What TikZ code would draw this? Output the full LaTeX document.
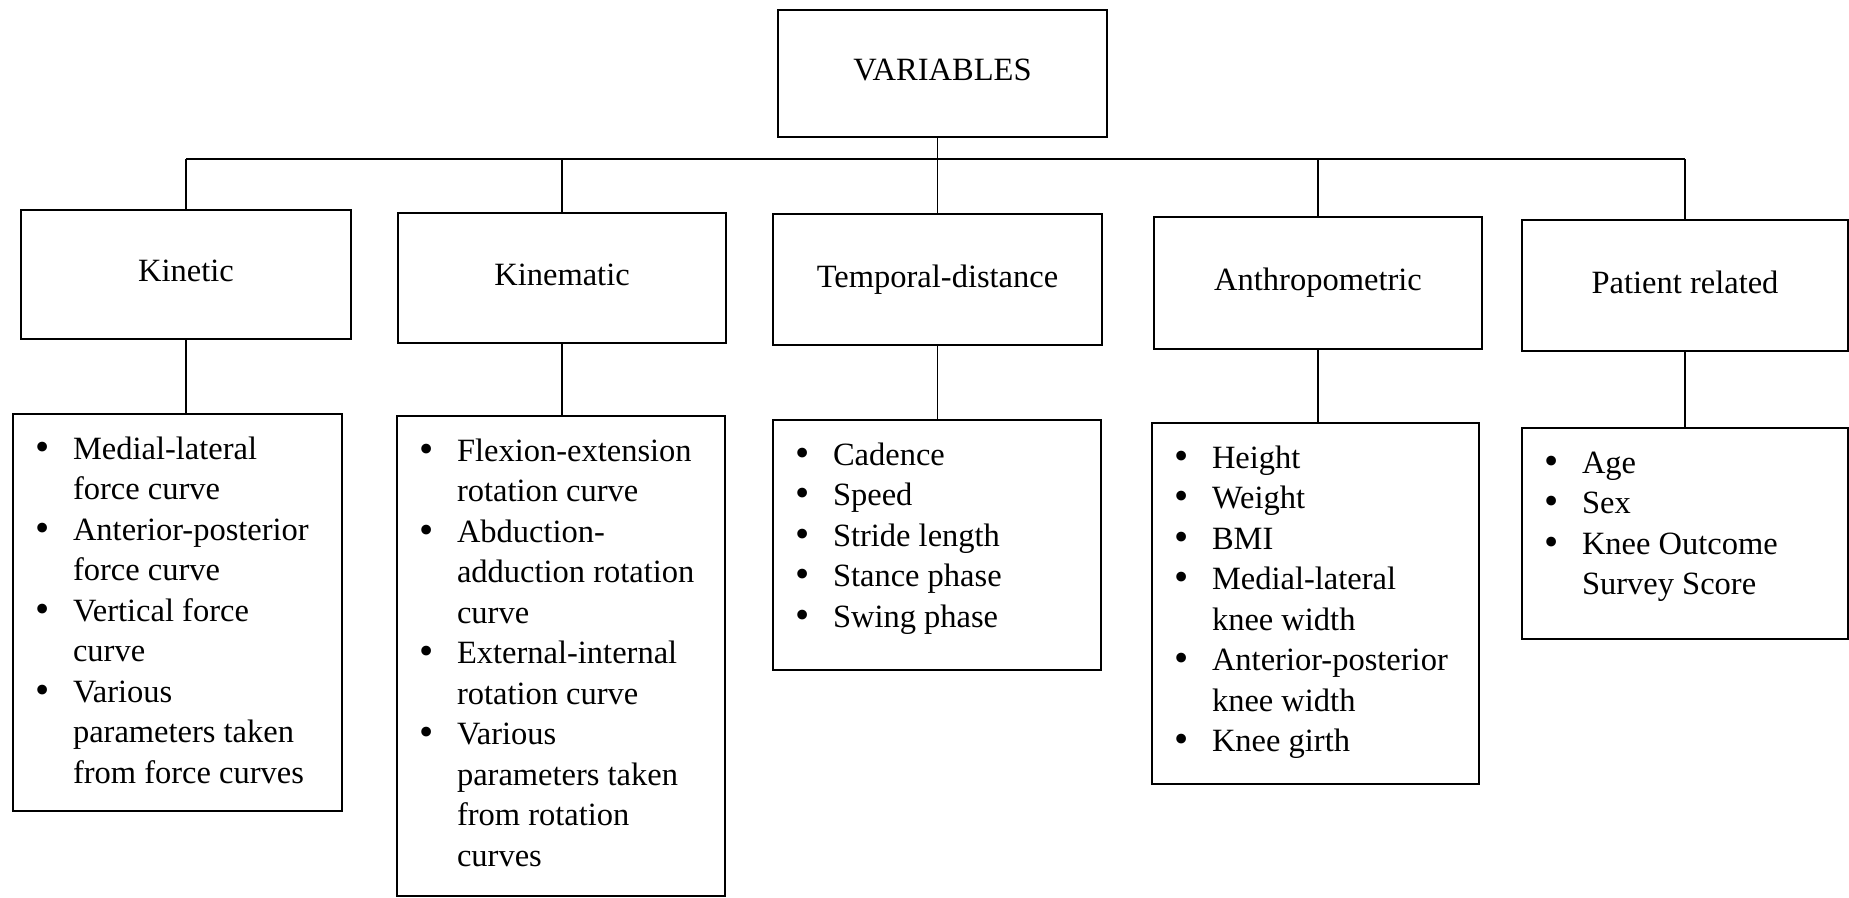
\documentclass[tikz,border=0pt]{standalone}
\usepackage{fontspec}
\setmainfont{Liberation Serif}
\newcommand{\bitem}[1]{\par\noindent\hangindent=60pt\hangafter=1\makebox[60pt][l]{\hspace{22pt}\raisebox{-1pt}{\scalebox{1.25}{\textbullet}}}\strut#1\strut\par}
\newcommand{\blist}[3]{\parbox[t][#2][t]{#1}{\raggedright\fontsize{32.5}{40.5}\selectfont\vspace*{17pt}#3}}
\newcommand{\up}[1]{\raisebox{7pt}{#1}}
\begin{document}
\begin{tikzpicture}[x=1pt,y=-1pt,
  box/.style={draw, line width=2pt, inner sep=0pt, anchor=north west, align=center, font=\fontsize{32.5}{40.5}\selectfont},
  listbox/.style={draw, line width=2pt, inner sep=0pt, anchor=north west, font=\fontsize{32.5}{40.5}\selectfont},
  conn/.style={line width=1.5pt}]
\useasboundingbox (0,0) rectangle (1849,897);
% top
\node[box, minimum width=329pt, minimum height=127pt] (top) at (777,9) {\up{VARIABLES}};
% level 2
\node[box, minimum width=330pt, minimum height=129pt] (k1) at (20,209) {\up{Kinetic}};
\node[box, minimum width=328pt, minimum height=130pt] (k2) at (397,212) {\up{Kinematic}};
\node[box, minimum width=329pt, minimum height=131pt] (k3) at (772,213) {\up{Temporal-distance}};
\node[box, minimum width=328pt, minimum height=132pt] (k4) at (1153,216) {\up{Anthropometric}};
\node[box, minimum width=326pt, minimum height=131pt] (k5) at (1521,219) {\up{Patient related}};
% level 3
\node[listbox] (l1) at (12,413) {\blist{329pt}{397pt}{%
\bitem{Medial-lateral\newline force curve}
\bitem{Anterior-posterior\newline force curve}
\bitem{Vertical force\newline curve}
\bitem{Various\newline parameters taken\newline from force curves}}};
\node[listbox] (l2) at (396,415) {\blist{328pt}{480pt}{%
\bitem{Flexion-extension\newline rotation curve}
\bitem{Abduction-\newline adduction rotation\newline curve}
\bitem{External-internal\newline rotation curve}
\bitem{Various\newline parameters taken\newline from rotation\newline curves}}};
\node[listbox] (l3) at (772,419) {\blist{328pt}{250pt}{%
\bitem{Cadence}
\bitem{Speed}
\bitem{Stride length}
\bitem{Stance phase}
\bitem{Swing phase}}};
\node[listbox] (l4) at (1151,422) {\blist{327pt}{361pt}{%
\bitem{Height}
\bitem{Weight}
\bitem{BMI}
\bitem{Medial-lateral\newline knee width}
\bitem{Anterior-posterior\newline knee width}
\bitem{Knee girth}}};
\node[listbox] (l5) at (1521,427) {\blist{326pt}{211pt}{%
\bitem{Age}
\bitem{Sex}
\bitem{Knee Outcome\newline Survey Score}}};
% connectors
\coordinate (bus) at (0,159);
\draw[conn] (top.south -| k3.north) -- (k3.north |- bus);
\draw[conn] (k1.north |- bus) -- (k5.north |- bus);
\foreach \i in {1,...,5}{
  \draw[conn] (k\i.north) -- (k\i.north |- bus);
  \draw[conn] (k\i.south) -- (k\i.south |- l\i.north);
}
\end{tikzpicture}
\end{document}
